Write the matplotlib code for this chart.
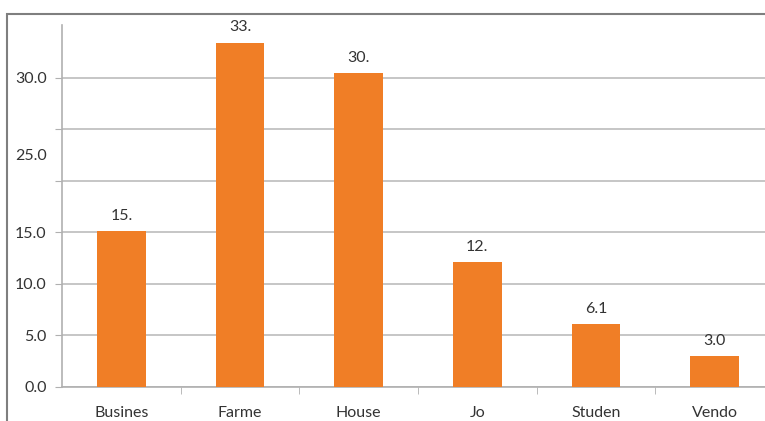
import matplotlib.pyplot as plt
from matplotlib.patches import Rectangle
import numpy as np

# ================= DATA =================
categories = ["Busines", "Farme", "House", "Jo", "Studen", "Vendo"]
values = [15.1, 33.4, 30.4, 12.1, 6.1, 3.0]
value_labels = ["15.", "33.", "30.", "12.", "6.1", "3.0"]
grid_ticks = [0, 5, 10, 15, 20, 25, 30]
grid_labels = ["0.0", "5.0", "10.0", "15.0", "", "", "30.0"]

plt.rcParams['font.family'] = ['Lato', 'DejaVu Sans']
FS = 11.5
TXT = '#333333'

fig = plt.figure(figsize=(7.65, 4.21), dpi=100)

# outer chart frame (runs off the right and bottom edges)
fig.patches.append(Rectangle((7 / 765, -0.05), 1.1, 1 - 14 / 421 + 0.05,
                             transform=fig.transFigure, fill=False,
                             edgecolor='#7f7f7f', linewidth=1.5))

ax = fig.add_axes([62 / 765, 34 / 421, 712 / 765, 362 / 421])

x = np.arange(len(categories))
bars = ax.bar(x, values, width=0.41, color='#F07E26', zorder=3)

for xi, v, lab in zip(x, values, value_labels):
    ax.text(xi, v + 0.8, lab, ha='center', va='bottom', fontsize=FS, color=TXT)

ax.set_xlim(-0.5, len(categories) - 0.5)
ax.set_ylim(0, 35.1)

# grid + y ticks
ax.set_yticks(grid_ticks)
ax.set_yticklabels(grid_labels)
ax.yaxis.grid(True, color='#c2c2c2', linewidth=1.3, zorder=0)
ax.set_yticks([22.5], minor=True)
ax.set_yticklabels(["25.0"], minor=True)
ax.tick_params(axis='y', which='minor', length=0, pad=11, labelsize=FS, labelcolor=TXT)
ax.tick_params(axis='y', which='major', length=5, color='#b0b0b0', pad=6,
               labelsize=FS, labelcolor=TXT)

# category ticks sit between bars
ax.set_xticks(x)
ax.set_xticklabels(categories)
ax.set_xticks(np.arange(len(categories)) + 0.5, minor=True)
ax.tick_params(axis='x', which='major', length=0, pad=14, labelsize=FS, labelcolor=TXT)
ax.tick_params(axis='x', which='minor', length=5, color='#b0b0b0')

for s in ['top', 'right']:
    ax.spines[s].set_visible(False)
for s in ['left', 'bottom']:
    ax.spines[s].set_color('#b0b0b0')
    ax.spines[s].set_linewidth(1.2)

plt.savefig("out.png", dpi=100)
